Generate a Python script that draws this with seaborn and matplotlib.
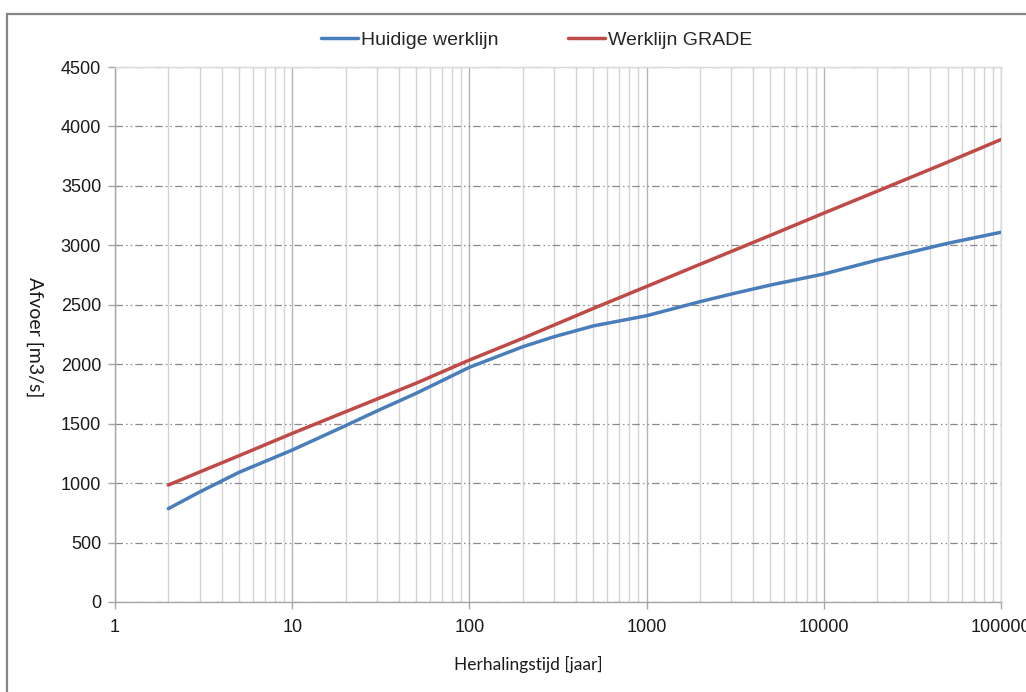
import numpy as np
import pandas as pd
import seaborn as sns
import matplotlib
matplotlib.use("Agg")
import matplotlib.pyplot as plt
from matplotlib.ticker import LogLocator, FixedLocator, FuncFormatter, NullFormatter
from matplotlib.patches import Rectangle

# Return periods (years) and discharge (m3/s) for both design curves
huidige_periods = [2, 3, 5, 10, 20, 30, 50, 100, 200, 300, 500, 1000, 2000, 3000,
                   5000, 10000, 20000, 30000, 50000, 100000]
huidige_werklijn = [785, 925, 1090, 1278, 1483, 1606, 1755, 1974, 2147, 2231, 2322,
                    2408, 2526, 2590, 2666, 2759, 2876, 2938, 3017, 3110]
grade_periods = [2, 5, 10, 20, 50, 100, 200, 500, 1000, 2000, 5000, 10000, 20000,
                 50000, 100000]
werklijn_grade = [984, 1230, 1418, 1600, 1840, 2035, 2218, 2469, 2654, 2840, 3084,
                  3271, 3455, 3700, 3890]
series_names = ["Huidige werklijn", "Werklijn GRADE"]
y_ticks = [0, 500, 1000, 1500, 2000, 2500, 3000, 3500, 4000, 4500]
x_ticks = [1, 10, 100, 1000, 10000, 100000]

df = pd.DataFrame({
    "Herhalingstijd": huidige_periods + grade_periods,
    "Afvoer": huidige_werklijn + werklijn_grade,
    "Werklijn": [series_names[0]] * len(huidige_periods) + [series_names[1]] * len(grade_periods),
})

sns.set_theme(style="white")
sans = ["Liberation Sans", "DejaVu Sans"]
label_font = ["Lato", "DejaVu Sans"]
plt.rcParams["font.family"] = sans

fig = plt.figure(figsize=(10.26, 6.92), dpi=100)
ax = fig.add_axes([115 / 1026, 1 - 602 / 692, 886 / 1026, 535 / 692])

palette = {series_names[0]: "#4A7EBB", series_names[1]: "#BE4B48"}
sns.lineplot(data=df, x="Herhalingstijd", y="Afvoer", hue="Werklijn",
             palette=palette, linewidth=2.5, ax=ax, zorder=5)
for ln in ax.get_lines():
    ln.set_solid_joinstyle("round")

ax.set_xscale("log")
ax.set_xlim(1, 100000)
ax.set_ylim(0, 4500)
ax.xaxis.set_major_locator(FixedLocator(x_ticks))
ax.xaxis.set_major_formatter(FuncFormatter(lambda v, p: f"{int(round(v))}"))
ax.xaxis.set_minor_locator(LogLocator(base=10, subs=range(2, 10), numticks=50))
ax.xaxis.set_minor_formatter(NullFormatter())
ax.yaxis.set_major_locator(FixedLocator(y_ticks))

# grid: light verticals at every log step, dash-dot horizontals
ax.grid(which="minor", axis="x", color="#d4d4d4", linewidth=1.0)
ax.grid(which="major", axis="x", color="#b4b4b4", linewidth=1.0)
ax.grid(which="major", axis="y", color="#8a8a8a", linewidth=0.9,
        linestyle=(0, (6, 2.5, 1.2, 2.5, 1.2, 2.5)))
ax.set_axisbelow(True)

for side in ["left", "bottom"]:
    ax.spines[side].set_color("#a6a6a6")
    ax.spines[side].set_linewidth(1.0)
for side in ["top", "right"]:
    ax.spines[side].set_color("#d9d9d9")
    ax.spines[side].set_linewidth(1.0)

ax.tick_params(axis="both", which="major", direction="out", length=5, width=1.0,
               color="#a6a6a6", labelsize=13, labelcolor="#1a1a1a",
               left=True, bottom=True)
ax.tick_params(axis="x", which="minor", length=0)
ax.tick_params(axis="x", which="major", pad=7)
ax.tick_params(axis="y", which="major", pad=5)

ax.set_xlabel("Herhalingstijd [jaar]", fontsize=12.5, family=label_font,
              color="#1a1a1a", va="center")
ax.xaxis.set_label_coords(0.467, -0.116)
ax.set_ylabel("Afvoer [m3/s]", fontsize=14, family=label_font,
              color="#1a1a1a", rotation=270, va="center")
ax.yaxis.set_label_coords(-0.0903, 0.495)

sns.move_legend(ax, "center", bbox_to_anchor=(0.523, 0.942),
                bbox_transform=fig.transFigure, ncol=2, frameon=False,
                title=None, fontsize=14, handlelength=1.9, handletextpad=0.15,
                columnspacing=3.6)

# chart-area border
fig.patches.append(Rectangle((7 / 1026, -0.1), 1.2, 1 - 14 / 692 + 0.1,
                             transform=fig.transFigure, fill=False,
                             edgecolor="#868686", linewidth=1.6, zorder=0))

fig.savefig("out.png", dpi=100)
